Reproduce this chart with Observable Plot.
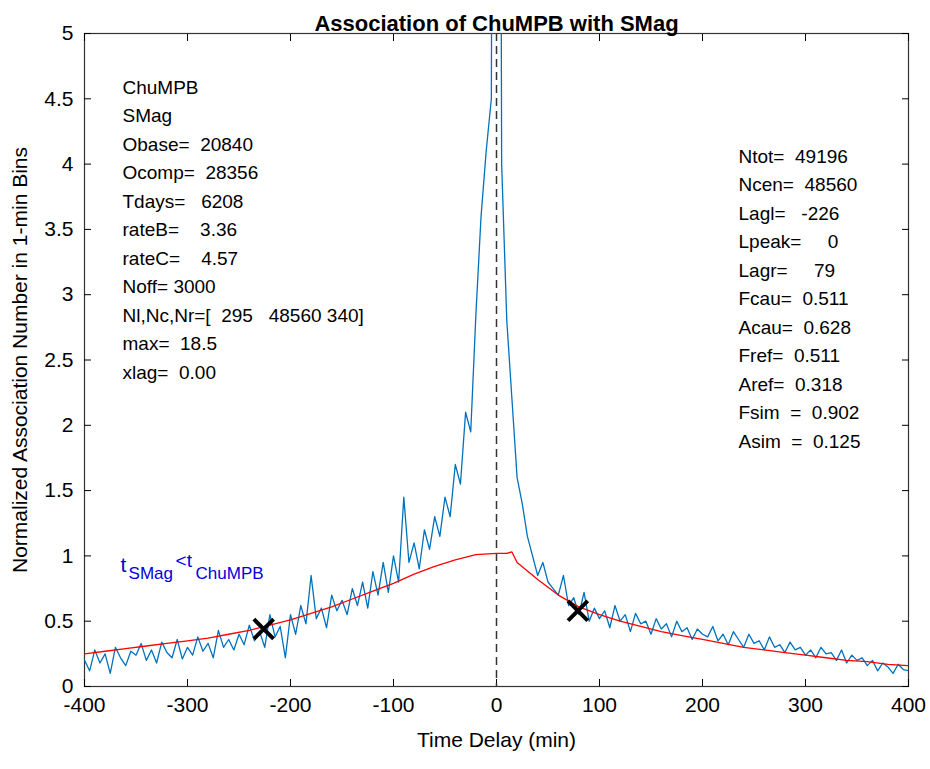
<!DOCTYPE html>
<html><head><meta charset="utf-8">
<script src="https://cdn.jsdelivr.net/npm/d3@7"></script>
<script src="https://cdn.jsdelivr.net/npm/@observablehq/plot@0.6"></script>
<style>body{margin:0;background:#fff}svg text{white-space:pre}</style>
</head><body><div id="chart"></div>
<script>
// blue: observed association, 5-min steps from -400 to 400
const blueStart = -400, blueStep = 5;
const blueVals = [
  0.20,0.12,0.28,0.18,0.25,0.10,0.30,0.22,0.16,0.27,
  0.24,0.33,0.20,0.28,0.18,0.34,0.26,0.22,0.36,0.21,
  0.30,0.24,0.38,0.27,0.33,0.22,0.43,0.30,0.36,0.28,
  0.40,0.32,0.47,0.35,0.42,0.30,0.55,0.38,0.46,0.22,
  0.55,0.40,0.62,0.48,0.85,0.52,0.60,0.45,0.70,0.58,
  0.66,0.55,0.75,0.62,0.80,0.60,0.88,0.70,0.95,0.72,
  1.00,0.80,1.45,0.95,1.10,0.90,1.20,1.05,1.30,1.15,
  1.45,1.30,1.70,1.55,2.10,1.95,2.85,3.60,4.10,4.50,
  18.5,
  4.00,2.80,2.20,1.60,1.40,1.15,1.00,0.85,0.95,0.80,
  0.75,0.70,0.85,0.62,0.68,0.55,0.72,0.50,0.60,0.52,
  0.58,0.45,0.62,0.50,0.55,0.42,0.56,0.48,0.50,0.40,
  0.52,0.44,0.48,0.38,0.50,0.42,0.45,0.36,0.44,0.40,
  0.38,0.46,0.35,0.40,0.32,0.42,0.36,0.30,0.40,0.33,
  0.35,0.28,0.38,0.30,0.32,0.26,0.34,0.28,0.30,0.24,
  0.28,0.22,0.30,0.25,0.26,0.20,0.28,0.18,0.24,0.20,
  0.22,0.16,0.20,0.12,0.18,0.15,0.10,0.17,0.13,0.12
];
// red: reference (simulated) curve
const redX = [-400,-380,-360,-340,-320,-300,-280,-260,-240,-220,-200,-180,-160,-140,-120,-100,-80,-60,-40,-20,0,10,15,20,40,60,80,100,120,140,160,180,200,220,240,260,280,300,320,340,360,380,400];
const redY = [0.25,0.27,0.29,0.31,0.33,0.35,0.37,0.40,0.43,0.47,0.51,0.56,0.61,0.67,0.73,0.79,0.86,0.92,0.97,1.01,1.02,1.02,1.03,0.95,0.82,0.70,0.61,0.55,0.50,0.46,0.42,0.39,0.36,0.33,0.30,0.28,0.26,0.24,0.22,0.20,0.19,0.17,0.16];
const markX = [-226, 79];
const markY = [0.44, 0.58];
const xTicks = [-400,-300,-200,-100,0,100,200,300,400];
const yTicks = [0,0.5,1,1.5,2,2.5,3,3.5,4,4.5,5];
const leftText = ["ChuMPB","SMag","Obase=  20840","Ocomp=  28356","Tdays=   6208","rateB=    3.36","rateC=    4.57","Noff= 3000","Nl,Nc,Nr=[  295   48560 340]","max=  18.5","xlag=  0.00"];
const rightText = ["Ntot=  49196","Ncen=  48560","Lagl=   -226","Lpeak=     0","Lagr=     79","Fcau=  0.511","Acau=  0.628","Fref=  0.511","Aref=  0.318","Fsim  =  0.902","Asim  =  0.125"];

const blue = blueVals.map((v, i) => ({x: blueStart + i * blueStep, y: v}));
const red = redX.map((x, i) => ({x, y: redY[i]}));
const marks = markX.map((x, i) => ({x, y: markY[i]}));
const font = "Liberation Sans, Arial, sans-serif";

const plot = Plot.plot({
  width: 930, height: 769,
  marginLeft: 84, marginRight: 22, marginTop: 33, marginBottom: 83,
  style: {fontFamily: font, fontSize: "20px", color: "#000", background: "#fff"},
  x: {domain: [-400, 400]},
  y: {domain: [0, 5]},
  marks: [
    Plot.frame({stroke: "#333", strokeWidth: 1.2}),
    Plot.axisX({ticks: xTicks, tickSize: -7, tickPadding: 18, fontSize: 21, tickFormat: d => String(d), label: "Time Delay (min)", labelAnchor: "center", labelArrow: "none", labelOffset: 60}),
    Plot.axisX({ticks: xTicks, anchor: "top", tickSize: -7, tickFormat: () => "", label: null}),
    Plot.axisY({ticks: yTicks, tickSize: -7, tickPadding: 18, fontSize: 21, tickFormat: d => String(d), label: "Normalized Association Number in 1-min Bins", labelAnchor: "center", labelArrow: "none", labelOffset: 72}),
    Plot.axisY({ticks: yTicks, anchor: "right", tickSize: -7, tickFormat: () => "", label: null}),
    Plot.ruleX([0], {stroke: "#333", strokeDasharray: "8,5", strokeWidth: 1.5}),
    Plot.line(blue, {x: "x", y: "y", stroke: "#0072BD", strokeWidth: 1.3, clip: true}),
    Plot.line(red, {x: "x", y: "y", stroke: "#ff0000", strokeWidth: 1.3, clip: true}),
    Plot.dot(marks, {x: "x", y: "y", symbol: "times", r: 9, stroke: "#000", strokeWidth: 4}),
    Plot.text([leftText.join("\n")], {frameAnchor: "top-left", dx: 38, dy: 40, textAnchor: "start", lineAnchor: "top", lineHeight: 1.5, fontSize: 19}),
    Plot.text([rightText.join("\n")], {frameAnchor: "top-left", dx: 654, dy: 109, textAnchor: "start", lineAnchor: "top", lineHeight: 1.5, fontSize: 19}),
    Plot.text(["t"], {x: -365, y: 0.93, fill: "#0000dd", fontSize: 21, textAnchor: "start"}),
    Plot.text(["SMag"], {x: -365, y: 0.93, dx: 8, dy: 9, fill: "#0000dd", fontSize: 17, textAnchor: "start"}),
    Plot.text(["<t"], {x: -365, y: 0.93, dx: 55, dy: -4, fill: "#0000dd", fontSize: 19, textAnchor: "start"}),
    Plot.text(["ChuMPB"], {x: -365, y: 0.93, dx: 75, dy: 9, fill: "#0000dd", fontSize: 17, textAnchor: "start"}),
    Plot.text(["Association of ChuMPB with SMag"], {frameAnchor: "top", dy: -18, fontSize: 22, fontWeight: "bold"})
  ]
});
document.getElementById("chart").appendChild(plot);
</script></body></html>
